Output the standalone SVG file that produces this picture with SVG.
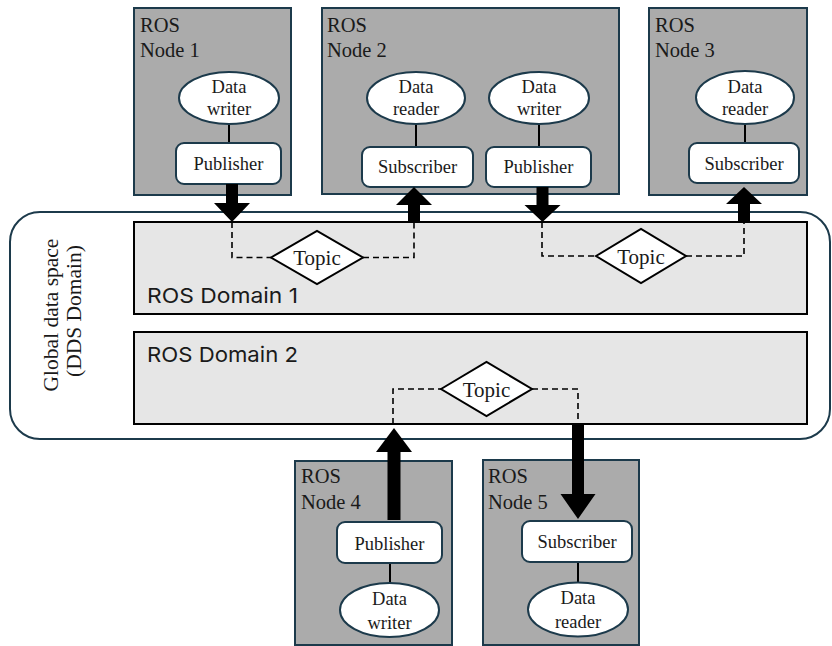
<svg xmlns="http://www.w3.org/2000/svg" width="832" height="646" viewBox="0 0 832 646">
<defs>
<style>
.node{fill:#ababab;stroke:#1c3a4b;stroke-width:2}
.el{fill:#fff;stroke:#1c3a4b;stroke-width:2}
.box{fill:#fff;stroke:#1c3a4b;stroke-width:2}
.link{stroke:#000;stroke-width:2}
.dom{fill:#e6e6e6;stroke:#000;stroke-width:2}
.outer{fill:#fff;stroke:#1c3a4b;stroke-width:2}
.dash{fill:none;stroke:#000;stroke-width:1.6;stroke-dasharray:6 4}
.topic{fill:#fff;stroke:#000;stroke-width:2}
.arrow{fill:#000;stroke:none}
.t{font-family:"Liberation Serif","Times New Roman",serif;fill:#1a1a1a}
.lab{font-size:20.5px}
.in{font-size:18.5px;text-anchor:middle}
.tp{font-size:21px;text-anchor:middle}
.gl{font-size:21.5px;text-anchor:middle}
.ds{font-family:"Inter","Liberation Sans",sans-serif;font-size:20.5px;fill:#1a1a1a}
</style>
</defs>

<g id="global-data-space">
<rect class="outer" x="10" y="212" width="820" height="227" rx="30" ry="30"/>
<text class="t gl" transform="translate(58,315) rotate(-90)">Global data space</text>
<text class="t gl" transform="translate(81,311) rotate(-90)">(DDS Domain)</text>
</g>

<g id="ros-domain-1">
<rect class="dom" x="134" y="222" width="673" height="92"/>
<text class="ds" x="147" y="303" textLength="151" lengthAdjust="spacingAndGlyphs">ROS Domain 1</text>
</g>

<g id="ros-domain-2">
<rect class="dom" x="134" y="332" width="673" height="92"/>
<text class="ds" x="147" y="362" textLength="151" lengthAdjust="spacingAndGlyphs">ROS Domain 2</text>
</g>

<g id="node1">
<rect class="node" x="134" y="8" width="157" height="187"/>
<text class="t lab" x="140" y="32">ROS</text>
<text class="t lab" x="140" y="57">Node 1</text>
<line class="link" x1="229" y1="124" x2="229" y2="143"/>
<ellipse class="el" cx="229" cy="98" rx="50" ry="26"/>
<text class="t in" x="229" y="93">Data</text>
<text class="t in" x="229" y="115">writer</text>
<rect class="box" x="176" y="143" width="105" height="41" rx="8"/>
<text class="t in" x="228.5" y="170">Publisher</text>
</g>

<g id="node2">
<rect class="node" x="322" y="8" width="297" height="186"/>
<text class="t lab" x="327" y="32">ROS</text>
<text class="t lab" x="327" y="57">Node 2</text>
<line class="link" x1="416" y1="124" x2="416" y2="147"/>
<ellipse class="el" cx="416" cy="98" rx="49" ry="26"/>
<text class="t in" x="416" y="93">Data</text>
<text class="t in" x="416" y="115">reader</text>
<rect class="box" x="362" y="147" width="111" height="40" rx="8"/>
<text class="t in" x="417.5" y="173">Subscriber</text>
<line class="link" x1="539" y1="124" x2="539" y2="147"/>
<ellipse class="el" cx="539" cy="98" rx="50" ry="26"/>
<text class="t in" x="539" y="93">Data</text>
<text class="t in" x="539" y="115">writer</text>
<rect class="box" x="486" y="147" width="105" height="40" rx="8"/>
<text class="t in" x="538.5" y="173">Publisher</text>
</g>

<g id="node3">
<rect class="node" x="649" y="8" width="158" height="187"/>
<text class="t lab" x="655" y="32">ROS</text>
<text class="t lab" x="655" y="57">Node 3</text>
<line class="link" x1="745" y1="124" x2="745" y2="143"/>
<ellipse class="el" cx="745" cy="97.5" rx="49" ry="26.5"/>
<text class="t in" x="745" y="93">Data</text>
<text class="t in" x="745" y="115">reader</text>
<rect class="box" x="689" y="143" width="110" height="40" rx="8"/>
<text class="t in" x="744" y="170">Subscriber</text>
</g>

<g id="node4">
<rect class="node" x="295" y="461" width="157" height="184"/>
<text class="t lab" x="301" y="483">ROS</text>
<text class="t lab" x="301" y="509">Node 4</text>
<line class="link" x1="390" y1="563" x2="390" y2="583"/>
<rect class="box" x="337" y="522" width="105" height="41" rx="8"/>
<text class="t in" x="389.5" y="550">Publisher</text>
<ellipse class="el" cx="389.5" cy="610" rx="49.5" ry="27"/>
<text class="t in" x="389.5" y="605">Data</text>
<text class="t in" x="389.5" y="629">writer</text>
</g>

<g id="node5">
<rect class="node" x="483" y="460" width="156" height="185"/>
<text class="t lab" x="488" y="483">ROS</text>
<text class="t lab" x="488" y="509">Node 5</text>
<line class="link" x1="578" y1="562" x2="578" y2="582"/>
<rect class="box" x="522" y="521" width="110" height="41" rx="8"/>
<text class="t in" x="577" y="548">Subscriber</text>
<ellipse class="el" cx="578" cy="609.5" rx="50" ry="27"/>
<text class="t in" x="578" y="604">Data</text>
<text class="t in" x="578" y="628">reader</text>
</g>

<g id="topic1">
<polygon class="topic" points="271,257.5 317,231 363,257.5 317,284"/>
<text class="t tp" x="317" y="265">Topic</text>
</g>
<g id="topic2">
<polygon class="topic" points="596,256 641,229 686,256 641,283"/>
<text class="t tp" x="641" y="263.5">Topic</text>
</g>
<g id="topic3">
<polygon class="topic" points="441,389 486.5,362 532,389 486.5,416"/>
<text class="t tp" x="486.5" y="396.5">Topic</text>
</g>

<g id="connectors">
<path class="dash" d="M232,222 V257.5 H271"/>
<path class="dash" d="M363,257.5 H414 V222"/>
<path class="dash" d="M542,222 V256 H596"/>
<path class="dash" d="M686,256 H744 V222"/>
<path class="dash" d="M393,424 V389 H441"/>
<path class="dash" d="M532,389 H578 V424"/>
<polygon class="arrow" points="226,184 238,184 238,203 250,203 232,222 214,203 226,203"/>
<polygon class="arrow" points="414,187 432,205 420,205 420,222 408,222 408,205 396,205"/>
<polygon class="arrow" points="536.5,187 548.5,187 548.5,205 560.5,205 542.5,222 524.5,205 536.5,205"/>
<polygon class="arrow" points="744,187 762,204 750,204 750,222 738,222 738,204 726,204"/>
<polygon class="arrow" points="394,428 412,452 400.5,452 400.5,520 387.5,520 387.5,452 376,452"/>
<polygon class="arrow" points="572,424 584,424 584,494 595.5,494 578,519 560.5,494 572,494"/>
</g>
</svg>
